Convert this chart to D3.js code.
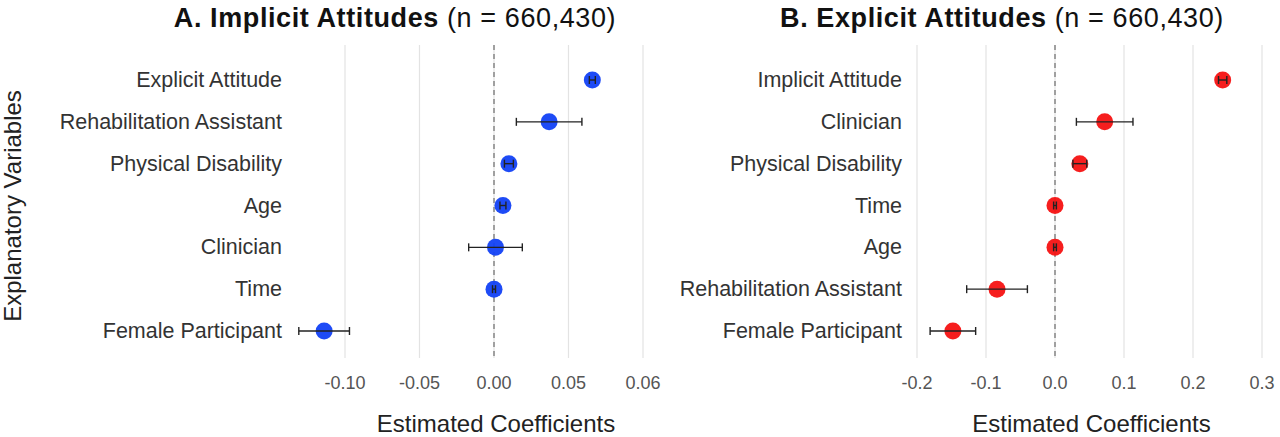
<!DOCTYPE html>
<html><head><meta charset="utf-8">
<script src="https://cdn.jsdelivr.net/npm/d3@7"></script>
<style>body{margin:0;background:#fff}text{font-family:"Helvetica Neue",Helvetica,"Liberation Sans",Arial,sans-serif}</style>
</head><body><svg id="c" width="1280" height="437"></svg>
<script>
const catsA=["Explicit Attitude","Rehabilitation Assistant","Physical Disability","Age","Clinician","Time","Female Participant"];
const estA=[0.066,0.037,0.010,0.006,0.001,0.000,-0.114];
const errA=[0.002,0.022,0.003,0.002,0.018,0.001,0.017];
const ticksA=[-0.10,-0.05,0.00,0.05,0.10];
const tickLabA=["-0.10","-0.05","0.00","0.05","0.06"];
const catsB=["Implicit Attitude","Clinician","Physical Disability","Time","Age","Rehabilitation Assistant","Female Participant"];
const estB=[0.243,0.072,0.036,0.000,0.000,-0.084,-0.148];
const errB=[0.006,0.041,0.010,0.002,0.002,0.044,0.033];
const ticksB=[-0.2,-0.1,0.0,0.1,0.2,0.3];
const tickLabB=["-0.2","-0.1","0.0","0.1","0.2","0.3"];
const svg=d3.select("#c");
function panel(cats,est,err,ticks,labs,dom,rng,color,title,cx,labX){
  const x=d3.scaleLinear().domain(dom).range(rng);
  const y=d3.scalePoint().domain(cats).range([80,331]);
  const g=svg.append("g");
  g.selectAll(".gl").data(ticks).join("line").attr("x1",d=>x(d)).attr("x2",d=>x(d)).attr("y1",45).attr("y2",358).attr("stroke","#e3e3e3").attr("stroke-width",1.2);
  g.append("line").attr("x1",x(0)).attr("x2",x(0)).attr("y1",45).attr("y2",358).attr("stroke","#777").attr("stroke-dasharray","5,4").attr("stroke-width",1.3);
  g.selectAll(".tl").data(ticks).join("text").attr("x",d=>x(d)).attr("y",389).attr("text-anchor","middle").attr("font-size",18).attr("fill","#555").text((d,i)=>labs[i]);
  g.selectAll(".cl").data(cats).join("text").attr("x",labX).attr("y",d=>y(d)+7).attr("text-anchor","end").attr("font-size",21.5).attr("fill","#333").text(d=>d);
  cats.forEach((c,i)=>{
    const yy=y(c);
    g.append("circle").attr("cx",x(est[i])).attr("cy",yy).attr("r",8.5).attr("fill",color).attr("opacity",0.95);
    g.append("line").attr("x1",x(est[i]-err[i])).attr("x2",x(est[i]+err[i])).attr("y1",yy).attr("y2",yy).attr("stroke","#222").attr("stroke-width",1.4);
    [est[i]-err[i],est[i]+err[i]].forEach(v=>g.append("line").attr("x1",x(v)).attr("x2",x(v)).attr("y1",yy-4).attr("y2",yy+4).attr("stroke","#222").attr("stroke-width",1.4));
  });
  const t=g.append("text").attr("x",cx).attr("y",27).attr("text-anchor","middle").attr("font-size",27).attr("fill","#111").attr("letter-spacing",0.6);
  t.append("tspan").attr("font-weight","bold").text(title);
  t.append("tspan").text(" (n = 660,430)");
  g.append("text").attr("x",(rng[0]+rng[1])/2+2).attr("y",432).attr("text-anchor","middle").attr("font-size",24).attr("fill","#222").text("Estimated Coefficients");
}
panel(catsA,estA,errA,ticksA,tickLabA,[-0.10,0.10],[345,643],"#1241f5","A. Implicit Attitudes",395,282);
panel(catsB,estB,errB,ticksB,tickLabB,[-0.2,0.3],[917,1262],"#f51212","B. Explicit Attitudes",1002,902);
svg.append("text").attr("transform","translate(21,206) rotate(-90)").attr("text-anchor","middle").attr("font-size",24).attr("fill","#222").text("Explanatory Variables");
</script></body></html>
